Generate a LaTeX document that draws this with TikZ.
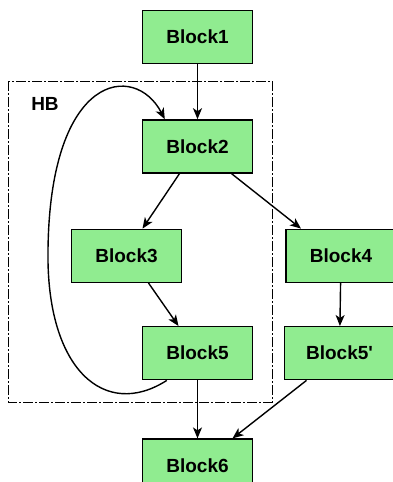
\documentclass[tikz,border=0pt]{standalone}
\usepackage{fontspec}
\setmainfont{Liberation Sans}
\usetikzlibrary{positioning, arrows.meta, calc}

\tikzset{
    block/.style={draw=black, line width=1.4pt, fill=blockgreen, minimum width=110pt,
        minimum height=53pt, inner sep=0pt, font=\bfseries\fontsize{19}{22}\selectfont},
    flow/.style={-{Stealth[length=11pt, width=9pt, inset=3pt]}, line width=1.4pt},
    hbox/.style={line width=1pt, dash pattern=on 10pt off 2pt on 2pt off 2pt}
}
\definecolor{blockgreen}{RGB}{144,236,144}

\begin{document}
\begin{tikzpicture}[x=1pt, y=-1pt]
        \useasboundingbox (0,0) rectangle (393,482);

        \node[block] (1) at (197.5,37) {Block1};
        \node[block, below=55pt of 1] (2) {Block2};
        \node[block, below=55pt of 2, xshift=-71pt] (3) {Block3};
        \node[block, below=55pt of 2, xshift=143.5pt] (4) {Block4};
        \node[block, below=43pt of 3, xshift=71pt] (5) {Block5};
        \node[block, below=43pt of 4, xshift=-1.5pt] (5p) {Block5\textquotesingle};
        \node[block, below=58pt of 5] (6) {Block6};

        % hyperblock frame
        \draw[hbox] (8,81) rectangle (272,402);
        \node[font=\bfseries\fontsize{19}{22}\selectfont] (hb) at (45,104) {HB};

        \draw[flow] (1) -- (2);
        \draw[flow] ([xshift=-18pt]2.south) -- ([xshift=-55pt]2.south |- 3.north);
        \draw[flow] ([xshift=34pt]2.south) -- ([xshift=-40pt]4.north);
        \draw[flow] ([xshift=22pt]3.south) -- ([xshift=-19pt]5.north);
        \draw[flow] (4) -- (5p);
        \draw[flow] (5) -- (6);
        \draw[flow] ([xshift=-33pt]5p.south) -- ([xshift=35pt]6.north);

        % back edge
        \draw[flow] ([xshift=25pt]5.south west)
            .. controls (105,420) and (46,370) .. (48,250)
            .. controls (50,72) and (135,62) .. ([xshift=23pt]2.north west);
\end{tikzpicture}
\end{document}
